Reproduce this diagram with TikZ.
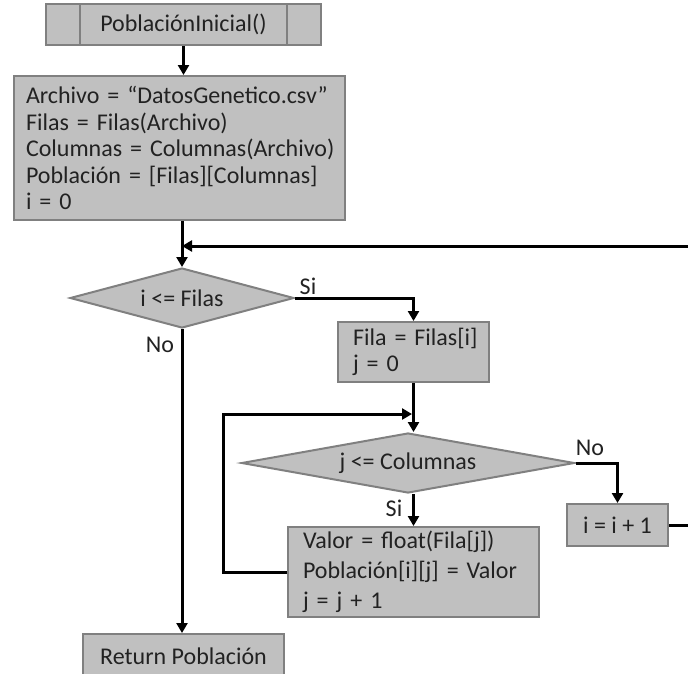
\documentclass[tikz,border=0pt]{standalone}
\usepackage{fontspec}
\setmainfont{Carlito}
\usetikzlibrary{shapes.geometric,arrows.meta}
\definecolor{boxfill}{HTML}{C0C0C0}
\definecolor{boxline}{HTML}{808080}
\definecolor{ink}{HTML}{222222}
\begin{document}
\begin{tikzpicture}[x=1pt,y=-1pt,
  every node/.style={text=ink, font=\fontsize{24}{26}\selectfont},
  procbox/.style={draw=boxline, fill=boxfill, line width=2pt, inner sep=0pt,
                  anchor=north west, align=center},
  listbox/.style={procbox, align=left},
  decision/.style={diamond, draw=boxline, fill=boxfill, line width=2pt,
                   inner sep=0pt, minimum height=60pt},
  flow/.style={draw=black, line width=3pt,
               -{Triangle[length=10pt,width=11pt]}},
  tag/.style={inner sep=0pt}
]
\useasboundingbox (0,0) rectangle (688,673);
\fill[white] (0,0) rectangle (688,673);
\clip (0,0) rectangle (688,673);

% predefined process (function header)
\node[procbox, minimum width=275pt, minimum height=41pt] (start) at (45,3)
  {PoblaciónInicial()};
\draw[boxline, line width=2pt]
  ([xshift=35pt]start.north west) -- ([xshift=35pt]start.south west)
  ([xshift=-35pt]start.north east) -- ([xshift=-35pt]start.south east);

% initialisation block
\node[listbox, minimum width=331pt, minimum height=144pt, inner xsep=12pt,
      text width=307pt, font=\fontsize{24}{26.5}\selectfont] (init) at (13,75)
  {\mbox{Archivo = “DatosGenetico.csv”}\\
   \mbox{Filas = Filas(Archivo)}\\
   \mbox{Columnas = Columnas(Archivo)}\\
   \mbox{Población = [Filas][Columnas]}\\
   \mbox{i = 0}};

% outer loop test
\node[decision, minimum width=224pt, shape aspect=3.73] (rowtest) at (182,298)
  {i <= Filas};

% row setup
\node[listbox, minimum width=151pt, minimum height=60pt, inner xsep=15pt,
      text width=121pt, font=\fontsize{24}{26}\selectfont] (fila) at (337,321)
  {\mbox{Fila = Filas[i]}\\ \mbox{j = 0}};

% inner loop test
\node[decision, minimum width=333pt, shape aspect=5.55] (coltest) at (408,463)
  {j <= Columnas};

% inner loop body
\node[listbox, minimum width=251pt, minimum height=90pt, inner xsep=15pt,
      text width=221pt, font=\fontsize{24}{30}\selectfont] (valor) at (287,526)
  {\mbox{Valor = float(Fila[j])}\\ \mbox{Población[i][j] = Valor}\\
   \mbox{j = j + 1}};

% row increment
\node[procbox, minimum width=101pt, minimum height=42pt] (inc) at (566,503)
  {i = i + 1};

% result
\node[procbox, minimum width=201pt, minimum height=44pt] (ret) at (82,633)
  {Return Población};

% branch labels
\node[tag] (siA) at (308,286) {Si};
\node[tag] (noA) at (160,345) {No};
\node[tag] (siB) at (394,508) {Si};
\node[tag] (noB) at (590,448) {No};

% helper points for the loop-back lines
\coordinate (outerR) at (705,246);
\coordinate (outerJoin) at (182,246);
\coordinate (innerL) at (223,414);
\coordinate (innerJoin) at (412,414);

% connectors
\draw[flow] (start.south) -- (start.south |- init.north);
\draw[flow] (rowtest.north |- init.south) -- (rowtest.north);
\draw[flow] (rowtest.east) -| (fila.north);
\draw[flow] (rowtest.south) -- (rowtest.south |- ret.north);
\draw[flow] (fila.south) -- (fila.south |- coltest.north);
\draw[flow] (fila.south |- coltest.south) -- (fila.south |- valor.north);
\draw[flow] (coltest.east) -| (inc.north);
\draw[flow] (valor.west) -| (innerL) -- (innerJoin);
\draw[flow] (inc.east) -| (outerR) -- (outerJoin);
\end{tikzpicture}
\end{document}
